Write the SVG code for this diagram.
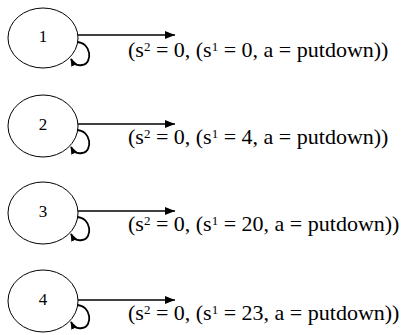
<svg xmlns="http://www.w3.org/2000/svg" width="410" height="335" viewBox="0 0 410 335">
<style>
.node{fill:#fff;stroke:#000;stroke-width:1}
.lbl{font-family:"Liberation Serif","Times New Roman",serif;font-size:17px;text-anchor:middle;fill:#000}
.edge{fill:none;stroke:#000;stroke-width:1.3}
.loop{fill:none;stroke:#000;stroke-width:1.8}
.t{font-family:"Liberation Serif","Times New Roman",serif;font-size:22px;fill:#000}
.sup{font-size:13px}
</style>
<defs>
<marker id="ah" viewBox="0 0 10 8" refX="10" refY="4" markerWidth="10" markerHeight="8" markerUnits="userSpaceOnUse" orient="auto">
<path d="M0,0 L10,4 L0,8 Z" fill="#000"/>
</marker>
<marker id="ah2" viewBox="0 0 10 8" refX="9" refY="4" markerWidth="8" markerHeight="7" markerUnits="userSpaceOnUse" orient="auto">
<path d="M0,0 L10,4 L0,8 Z" fill="#000"/>
</marker>
</defs>
<g id="connectors">
<line class="edge" x1="78" y1="35" x2="175" y2="35" marker-end="url(#ah)"/>
<line class="edge" x1="78" y1="124" x2="175" y2="124" marker-end="url(#ah)"/>
<line class="edge" x1="78" y1="211" x2="175" y2="211" marker-end="url(#ah)"/>
<line class="edge" x1="78" y1="300" x2="175" y2="300" marker-end="url(#ah)"/>
<path class="loop" d="M76,42 C92,42 93,64 82,65 C77,66 73,63 71,59" marker-end="url(#ah2)"/>
<path class="loop" d="M76,130 C92,130 93,152 82,153 C77,154 73,151 71,147" marker-end="url(#ah2)"/>
<path class="loop" d="M76,217 C92,217 93,239 82,240 C77,241 73,238 71,234" marker-end="url(#ah2)"/>
<path class="loop" d="M76,305 C92,305 93,327 82,328 C77,329 73,326 71,322" marker-end="url(#ah2)"/>
</g>
<g id="node1"><ellipse class="node" cx="43" cy="38" rx="35" ry="30"/><text class="lbl" x="43" y="42">1</text></g>
<g id="node2"><ellipse class="node" cx="43" cy="126" rx="35" ry="31"/><text class="lbl" x="43" y="130">2</text></g>
<g id="node3"><ellipse class="node" cx="43" cy="213" rx="35" ry="31"/><text class="lbl" x="43" y="217">3</text></g>
<g id="node4"><ellipse class="node" cx="43" cy="301" rx="35" ry="31"/><text class="lbl" x="43" y="305">4</text></g>
<g id="labels">
<text class="t" x="128" y="57">(s<tspan class="sup" dy="-6">2</tspan><tspan dy="6"> = 0, (s</tspan><tspan class="sup" dy="-6">1</tspan><tspan dy="6"> = 0, a = putdown))</tspan></text>
<text class="t" x="128" y="144">(s<tspan class="sup" dy="-6">2</tspan><tspan dy="6"> = 0, (s</tspan><tspan class="sup" dy="-6">1</tspan><tspan dy="6"> = 4, a = putdown))</tspan></text>
<text class="t" x="128" y="231">(s<tspan class="sup" dy="-6">2</tspan><tspan dy="6"> = 0, (s</tspan><tspan class="sup" dy="-6">1</tspan><tspan dy="6"> = 20, a = putdown))</tspan></text>
<text class="t" x="128" y="320">(s<tspan class="sup" dy="-6">2</tspan><tspan dy="6"> = 0, (s</tspan><tspan class="sup" dy="-6">1</tspan><tspan dy="6"> = 23, a = putdown))</tspan></text>
</g>
</svg>
